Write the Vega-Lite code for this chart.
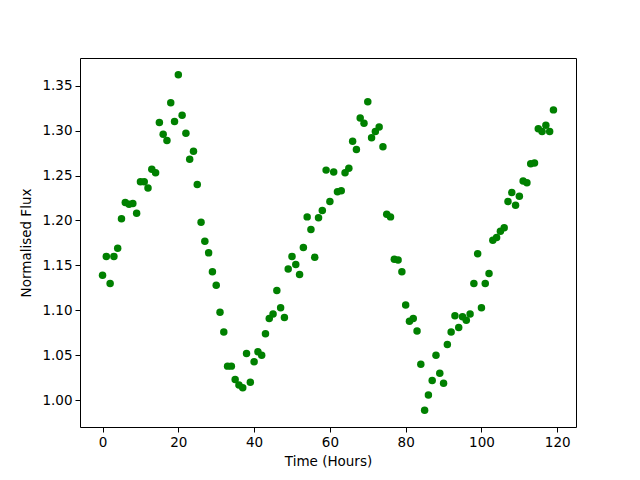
{
  "$schema": "https://vega.github.io/schema/vega-lite/v6.json",
  "width": 496,
  "height": 369,
  "autosize": {"type": "none"},
  "padding": {"left": 80, "top": 58, "right": 64, "bottom": 53},
  "background": "white",
  "config": {
    "view": {"stroke": "black", "strokeWidth": 1},
    "axis": {
      "grid": false,
      "domain": false,
      "tickColor": "black",
      "tickSize": 5,
      "tickWidth": 1,
      "labelFont": "DejaVu Sans",
      "labelFontSize": 13.5,
      "labelColor": "black",
      "labelPadding": 3,
      "titleFont": "DejaVu Sans",
      "titleFontSize": 13.5,
      "titleFontWeight": "normal",
      "titleColor": "black"
    }
  },
  "data": {
    "values": [
      {"t":0,"f":1.139},{"t":1,"f":1.160},{"t":2,"f":1.130},{"t":3,"f":1.160},{"t":4,"f":1.169},
      {"t":5,"f":1.202},{"t":6,"f":1.220},{"t":7,"f":1.218},{"t":8,"f":1.219},{"t":9,"f":1.208},
      {"t":10,"f":1.243},{"t":11,"f":1.243},{"t":12,"f":1.236},{"t":13,"f":1.257},{"t":14,"f":1.253},
      {"t":15,"f":1.309},{"t":16,"f":1.296},{"t":17,"f":1.289},{"t":18,"f":1.331},{"t":19,"f":1.310},
      {"t":20,"f":1.362},{"t":21,"f":1.317},{"t":22,"f":1.297},{"t":23,"f":1.268},{"t":24,"f":1.277},
      {"t":25,"f":1.240},{"t":26,"f":1.198},{"t":27,"f":1.177},{"t":28,"f":1.164},{"t":29,"f":1.143},
      {"t":30,"f":1.128},{"t":31,"f":1.098},{"t":32,"f":1.076},{"t":33,"f":1.038},{"t":34,"f":1.038},
      {"t":35,"f":1.023},{"t":36,"f":1.017},{"t":37,"f":1.014},{"t":38,"f":1.052},{"t":39,"f":1.020},
      {"t":40,"f":1.043},{"t":41,"f":1.054},{"t":42,"f":1.050},{"t":43,"f":1.074},{"t":44,"f":1.091},
      {"t":45,"f":1.096},{"t":46,"f":1.122},{"t":47,"f":1.103},{"t":48,"f":1.092},{"t":49,"f":1.146},
      {"t":50,"f":1.160},{"t":51,"f":1.151},{"t":52,"f":1.140},{"t":53,"f":1.170},{"t":54,"f":1.204},
      {"t":55,"f":1.190},{"t":56,"f":1.159},{"t":57,"f":1.203},{"t":58,"f":1.211},{"t":59,"f":1.256},
      {"t":60,"f":1.221},{"t":61,"f":1.254},{"t":62,"f":1.232},{"t":63,"f":1.233},{"t":64,"f":1.253},
      {"t":65,"f":1.258},{"t":66,"f":1.288},{"t":67,"f":1.279},{"t":68,"f":1.314},{"t":69,"f":1.308},
      {"t":70,"f":1.332},{"t":71,"f":1.292},{"t":72,"f":1.299},{"t":73,"f":1.304},{"t":74,"f":1.282},
      {"t":75,"f":1.207},{"t":76,"f":1.204},{"t":77,"f":1.157},{"t":78,"f":1.156},{"t":79,"f":1.143},
      {"t":80,"f":1.106},{"t":81,"f":1.088},{"t":82,"f":1.091},{"t":83,"f":1.077},{"t":84,"f":1.040},
      {"t":85,"f":0.989},{"t":86,"f":1.006},{"t":87,"f":1.022},{"t":88,"f":1.050},{"t":89,"f":1.030},
      {"t":90,"f":1.019},{"t":91,"f":1.062},{"t":92,"f":1.076},{"t":93,"f":1.094},{"t":94,"f":1.081},
      {"t":95,"f":1.093},{"t":96,"f":1.089},{"t":97,"f":1.096},{"t":98,"f":1.130},{"t":99,"f":1.163},
      {"t":100,"f":1.103},{"t":101,"f":1.130},{"t":102,"f":1.141},{"t":103,"f":1.178},{"t":104,"f":1.181},
      {"t":105,"f":1.188},{"t":106,"f":1.192},{"t":107,"f":1.221},{"t":108,"f":1.231},{"t":109,"f":1.217},
      {"t":110,"f":1.227},{"t":111,"f":1.244},{"t":112,"f":1.242},{"t":113,"f":1.263},{"t":114,"f":1.264},
      {"t":115,"f":1.302},{"t":116,"f":1.299},{"t":117,"f":1.306},{"t":118,"f":1.299},{"t":119,"f":1.323}
    ]
  },
  "mark": {"type": "point", "shape": "circle", "filled": true, "opacity": 1, "color": "#008000", "size": 56},
  "encoding": {
    "x": {
      "field": "t", "type": "quantitative",
      "scale": {"domain": [-5.95, 124.95], "nice": false, "zero": false},
      "axis": {"title": "Time (Hours)", "values": [0, 20, 40, 60, 80, 100, 120], "format": "d", "titlePadding": 6}
    },
    "y": {
      "field": "f", "type": "quantitative",
      "scale": {"domain": [0.9703, 1.3807], "nice": false, "zero": false},
      "axis": {"title": "Normalised Flux", "values": [1.0, 1.05, 1.1, 1.15, 1.2, 1.25, 1.3, 1.35], "format": ".2f", "titlePadding": 8}
    }
  }
}
